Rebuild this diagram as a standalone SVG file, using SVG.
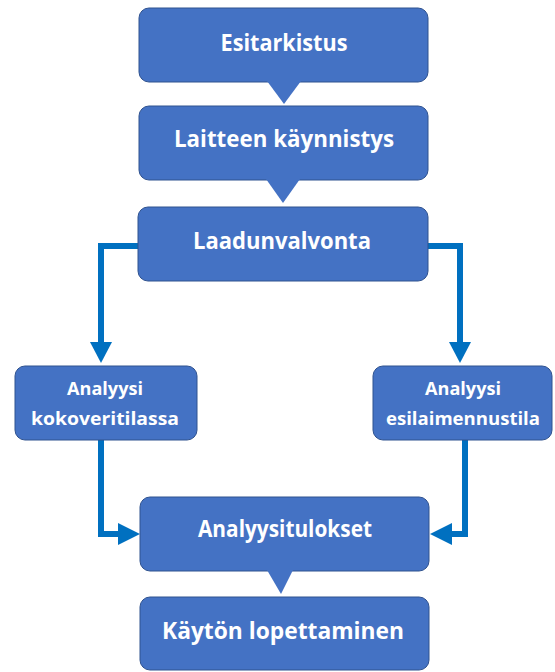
<svg xmlns="http://www.w3.org/2000/svg" width="555" height="672" viewBox="0 0 555 672">
<style>
.box{fill:#4472C4;stroke:#2F528F;stroke-width:1}
.t{font-family:"Open Sans","Liberation Sans",sans-serif;font-weight:bold;fill:#fff;text-anchor:middle}
.big{font-size:23px}
.sm{font-size:18px}
.conn{fill:none;stroke:#0070C0;stroke-width:6}
.head{fill:#0070C0}
.tri{fill:#4472C4}
</style>
<rect width="555" height="672" fill="#fff"/>
<g id="connectors">
<path class="conn" d="M139,246 H101 V344"/>
<polygon class="head" points="90,342 112,342 101,363"/>
<path class="conn" d="M428,246 H460 V344"/>
<polygon class="head" points="449,342 471,342 460,363"/>
<path class="conn" d="M101,440 V534 H120"/>
<polygon class="head" points="118,523 118,545 140,534"/>
<path class="conn" d="M465,440 V534 H450"/>
<polygon class="head" points="452,523 452,545 430,534"/>
</g>
<g id="n1">
<rect class="box" x="139" y="8" width="289" height="74" rx="10"/>
<polygon class="tri" points="267,81 301,81 284,104"/>
<text class="t big" x="284" y="51" textLength="127" lengthAdjust="spacingAndGlyphs">Esitarkistus</text>
</g>
<g id="n2">
<rect class="box" x="139" y="106" width="289" height="74" rx="10"/>
<polygon class="tri" points="266,179 300,179 283,203"/>
<text class="t big" x="284" y="147" textLength="220" lengthAdjust="spacingAndGlyphs">Laitteen käynnistys</text>
</g>
<g id="n3">
<rect class="box" x="138" y="207" width="290" height="74" rx="10"/>
<text class="t big" x="282" y="249" textLength="178" lengthAdjust="spacingAndGlyphs">Laadunvalvonta</text>
</g>
<g id="n4">
<rect class="box" x="15" y="366" width="182" height="74" rx="10"/>
<text class="t sm" x="105" y="395" textLength="76" lengthAdjust="spacingAndGlyphs">Analyysi</text>
<text class="t sm" x="105" y="425" textLength="148" lengthAdjust="spacingAndGlyphs">kokoveritilassa</text>
</g>
<g id="n5">
<rect class="box" x="373" y="366" width="179" height="74" rx="10"/>
<text class="t sm" x="463" y="395" textLength="76" lengthAdjust="spacingAndGlyphs">Analyysi</text>
<text class="t sm" x="463" y="425" textLength="154" lengthAdjust="spacingAndGlyphs">esilaimennustila</text>
</g>
<g id="n6">
<rect class="box" x="140" y="497" width="289" height="74" rx="10"/>
<polygon class="tri" points="267,570 293,570 281,594"/>
<text class="t big" x="285" y="537" textLength="174" lengthAdjust="spacingAndGlyphs">Analyysitulokset</text>
</g>
<g id="n7">
<rect class="box" x="140" y="597" width="289" height="73" rx="10"/>
<text class="t big" x="283" y="639" textLength="242" lengthAdjust="spacingAndGlyphs">Käytön lopettaminen</text>
</g>
</svg>
